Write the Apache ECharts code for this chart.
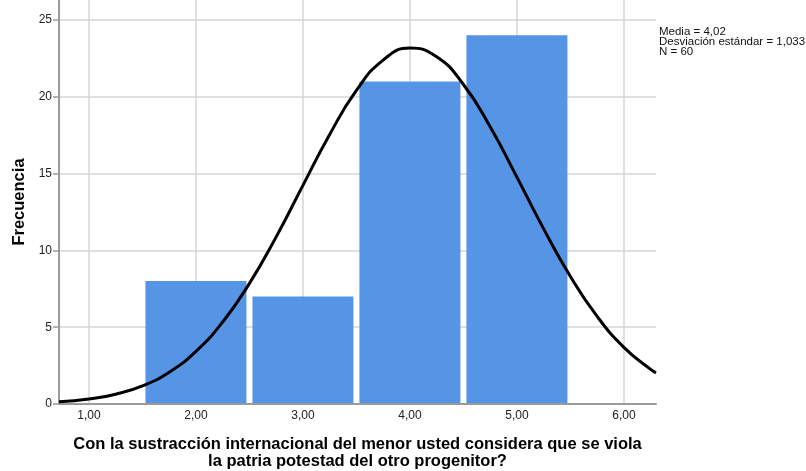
<!DOCTYPE html>
<html><head><meta charset="utf-8">
<script src="https://cdn.jsdelivr.net/npm/echarts@6/dist/echarts.min.js"></script>
<style>html,body{margin:0;padding:0;background:#fff}#c{width:806px;height:471px}</style>
</head><body><div id="c"></div>
<script>
// Histogram bins (centers) and frequencies
const binCenters = [2, 3, 4, 5];
const frequencies = [8, 7, 21, 24];
// Normal curve points
const curveX = [0.72, 1.0, 1.25, 1.5, 1.75, 2.0, 2.25, 2.5, 2.75, 3.0, 3.25, 3.5, 3.75, 4.0, 4.25, 4.5, 4.75, 5.0, 5.25, 5.5, 5.75, 6.0, 6.25, 6.30];
const curveY = [0.14, 0.32, 0.64, 1.18, 2.07, 3.43, 5.34, 7.85, 10.88, 14.23, 17.55, 20.41, 22.39, 23.17, 22.60, 20.80, 18.05, 14.77, 11.40, 8.30, 5.70, 3.69, 2.25, 2.03];
const xTicks = [1, 2, 3, 4, 5, 6];
const yTicks = [0, 5, 10, 15, 20, 25];
const statsLines = ['Media = 4,02', 'Desviación estándar = 1,033', 'N = 60'];
const xTitle = 'Con la sustracción internacional del menor usted considera que se viola\nla patria potestad del otro progenitor?';
const yTitle = 'Frecuencia';

const chart = echarts.init(document.getElementById('c'), null, {renderer: 'canvas'});
const FONT = '"Liberation Sans", Arial, sans-serif';
const gridColor = '#d6d6d6';
const axisColor = '#9a9a9a';

chart.setOption({
  animation: false,
  textStyle: {fontFamily: FONT},
  grid: {left: 59, right: 150, top: 0, bottom: 67, containLabel: false, outerBoundsMode: 'none'},
  xAxis: {
    type: 'value', min: 0.72, max: 6.30,
    name: xTitle, nameLocation: 'middle', nameGap: 32,
    nameTextStyle: {fontFamily: FONT, fontSize: 16.5, fontWeight: 'bold', color: '#000', lineHeight: 17},
    axisLine: {show: true, onZero: false, lineStyle: {color: axisColor, width: 2}},
    axisTick: {show: false, customValues: xTicks},
    axisLabel: {customValues: xTicks, color: '#222', fontSize: 12, margin: 6,
      formatter: v => v.toFixed(2).replace('.', ',')},
    splitLine: {show: true, lineStyle: {color: gridColor, width: 1.5}}
  },
  yAxis: {
    type: 'value', min: 0, max: 26.3,
    name: yTitle, nameLocation: 'middle', nameGap: 31, nameRotate: 90,
    nameTextStyle: {fontFamily: FONT, fontSize: 16.5, fontWeight: 'bold', color: '#000'},
    axisLine: {show: true, lineStyle: {color: axisColor, width: 2}},
    axisTick: {show: true, length: 6, customValues: yTicks, lineStyle: {color: axisColor, width: 1.5}},
    axisLabel: {customValues: yTicks, color: '#222', fontSize: 12, margin: 7},
    splitLine: {show: true, lineStyle: {color: gridColor, width: 1.5}}
  },
  series: [
    {
      type: 'custom',
      z: 2,
      data: binCenters.map((c, i) => [c, frequencies[i]]),
      renderItem: function (params, api) {
        const c = api.value(0), f = api.value(1);
        const p0 = api.coord([c - 0.5, f]);
        const p1 = api.coord([c + 0.5, 0]);
        return {
          type: 'rect',
          shape: {x: p0[0] + 3, y: p0[1], width: p1[0] - p0[0] - 6, height: p1[1] - p0[1] - 1},
          style: {fill: '#5695e5'}
        };
      }
    },
    {
      type: 'line', z: 5, smooth: true, showSymbol: false, symbol: 'none',
      data: curveX.map((x, i) => [x, curveY[i]]),
      lineStyle: {color: '#000', width: 3}
    }
  ],
  graphic: [{
    type: 'text', left: 659, top: 26,
    style: {text: statsLines.join('\n'), font: '11.5px ' + FONT, fill: '#111', lineHeight: 10}
  }]
});
</script></body></html>
